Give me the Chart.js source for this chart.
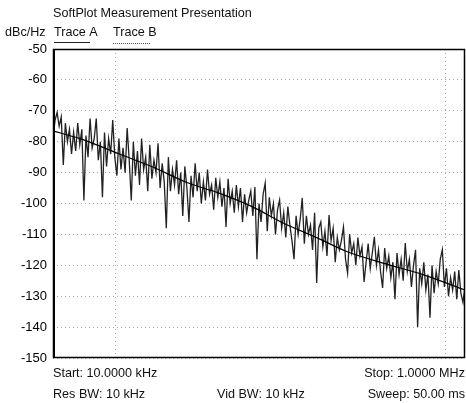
<!DOCTYPE html>
<html>
<head>
<meta charset="utf-8">
<script src="https://cdn.jsdelivr.net/npm/chart.js@4/dist/chart.umd.min.js"></script>
<style>
  html, body { margin: 0; padding: 0; background: #fff; }
  #wrap { width: 466px; height: 403px; position: relative; }
</style>
</head>
<body>
<div id="wrap"><canvas id="plot" width="466" height="403"></canvas></div>
<script>
// sweep settings
const startHz = 10000;
const stopHz = 1000000;

// y axis
const yMin = -150;
const yMax = -50;
const yStep = 10;

// dotted vertical grid seen on the plot (Hz)
const gridFreqs = [20000, 800000];

// Trace A: raw measured noise, one value per sweep point (dBc/Hz)
const traceA = [
  -79, -73, -70.5, -75, -72, -87.5, -74, -80, -76, -84,
  -77, -83, -74, -81, -76, -99, -78, -85, -72.5, -82,
  -79, -72.5, -86, -80, -98, -77, -88, -79, -84, -73,
  -85, -91, -79, -89, -82, -90, -75.6, -86, -99, -80,
  -91, -83, -94, -79, -89, -85, -96, -81, -92, -86,
  -90, -80.5, -95, -87, -93, -108, -85, -96, -89, -94,
  -86, -97, -90, -104, -88, -95, -106, -91, -98, -87,
  -96, -90, -100, -93, -99, -89, -97, -94, -102, -91.7,
  -98, -93, -101, -95, -107.6, -92, -100, -96, -103, -94,
  -101, -95, -106, -97, -103, -99, -96, -104, -94.7, -118,
  -100, -106, -97, -93.4, -109, -98, -104, -100, -110, -102,
  -98.9, -108, -103, -111, -101, -107, -112, -118, -104, -110,
  -105, -98.2, -113, -104, -110, -107, -115, -103, -125.7, -108,
  -106, -114, -109, -117, -103.7, -112, -108, -119, -111, -115,
  -112, -107.6, -118, -122.5, -110, -116, -113, -120, -111, -117,
  -114, -125.4, -119, -113, -121, -116, -110.8, -120, -115, -122,
  -127.3, -114.4, -121, -117, -124, -119, -131, -116, -123, -118,
  -125, -112.8, -122, -118, -127, -120, -115, -140, -121, -126,
  -119, -128, -123, -137, -120, -129, -122, -126, -118, -115,
  -127, -121, -130, -124, -128, -122, -131, -121.5, -129, -132, -127
];

// Trace B: smoothed trace
const traceBFreq = [10000, 13500, 17000, 21000, 30500, 45000, 63000, 92500, 131000, 193000, 270000, 400000, 625000, 1000000];
const traceB = [-76.5, -79, -81.5, -84, -88.2, -93.3, -96.5, -101, -106.3, -111.2, -115.7, -119.3, -123, -128];

// sweep point frequencies (log sweep)
const nPts = traceA.length;
const sweepFreq = traceA.map((_, i) => startHz * Math.pow(stopHz / startHz, i / (nPts - 1)));

const FONT = '"Liberation Sans", Arial, Helvetica, sans-serif';
const FS = 12.6;

const textPlugin = {
    id: 'softplotText',
    afterDraw(chart) {
        const ctx = chart.ctx;
        const a = chart.chartArea;
        ctx.save();
        // frame
        ctx.strokeStyle = '#000';
        ctx.lineWidth = 1.5;
        ctx.strokeRect(a.left + 0.5, a.top + 0.5, a.right - a.left - 1, a.bottom - a.top - 1);
        ctx.lineWidth = 2;
        ctx.beginPath();
        ctx.moveTo(a.left + 1, a.top);
        ctx.lineTo(a.left + 1, a.bottom);
        ctx.stroke();

        ctx.fillStyle = '#111';
        ctx.font = FS + 'px ' + FONT;
        ctx.textBaseline = 'middle';
        ctx.textAlign = 'left';
        ctx.fillText('SoftPlot Measurement Presentation', 53, 14);
        ctx.fillText('dBc/Hz', 5, 33);
        ctx.fillText('Trace A', 54, 33);
        ctx.fillText('Trace B', 113, 33);

        // legend underlines
        ctx.lineWidth = 1;
        ctx.strokeStyle = '#222';
        ctx.beginPath();
        ctx.moveTo(54, 42.5); ctx.lineTo(90, 42.5);
        ctx.stroke();
        ctx.setLineDash([1, 1]);
        ctx.strokeStyle = '#555';
        ctx.beginPath();
        ctx.moveTo(113, 43.5); ctx.lineTo(150, 43.5);
        ctx.stroke();
        ctx.setLineDash([]);

        // footer
        ctx.fillText('Start: 10.0000 kHz', 53, 374);
        ctx.fillText('Res BW: 10 kHz', 53, 395);
        ctx.fillText('Vid BW: 10 kHz', 217, 395);
        ctx.textAlign = 'right';
        ctx.fillText('Stop: 1.0000 MHz', 465, 374);
        ctx.fillText('Sweep: 50.00 ms', 465, 395);
        ctx.restore();
    }
};

new Chart(document.getElementById('plot'), {
    type: 'line',
    data: {
        datasets: [
            {
                label: 'Trace B',
                data: traceBFreq.map((f, i) => ({ x: f, y: traceB[i] })),
                borderColor: '#000',
                borderWidth: 1.2,
                pointRadius: 0,
                tension: 0.3,
                order: 0
            },
            {
                label: 'Trace A',
                data: sweepFreq.map((f, i) => ({ x: f, y: traceA[i] })),
                borderColor: 'rgba(10,10,10,0.9)',
                borderWidth: 1.3,
                pointRadius: 0,
                tension: 0,
                order: 1
            }
        ]
    },
    options: {
        responsive: false,
        animation: false,
        layout: { padding: { top: 49, right: 1, bottom: 0, left: 0 } },
        plugins: { legend: { display: false }, tooltip: { enabled: false } },
        scales: {
            x: {
                type: 'logarithmic',
                min: startHz,
                max: stopHz,
                afterBuildTicks: s => { s.ticks = gridFreqs.map(v => ({ value: v })); },
                afterFit: s => { s.height = 45; },
                ticks: { display: false },
                grid: { color: '#aaa', drawTicks: false },
                border: { display: false, dash: [1, 3] }
            },
            y: {
                min: yMin,
                max: yMax,
                afterFit: s => { s.width = 53; },
                ticks: {
                    stepSize: yStep,
                    color: '#000',
                    padding: 6,
                    font: { family: FONT, size: 13 }
                },
                grid: { color: '#aaa', drawTicks: false },
                border: { display: false, dash: [1, 3] }
            }
        }
    },
    plugins: [textPlugin]
});
</script>
</body>
</html>
